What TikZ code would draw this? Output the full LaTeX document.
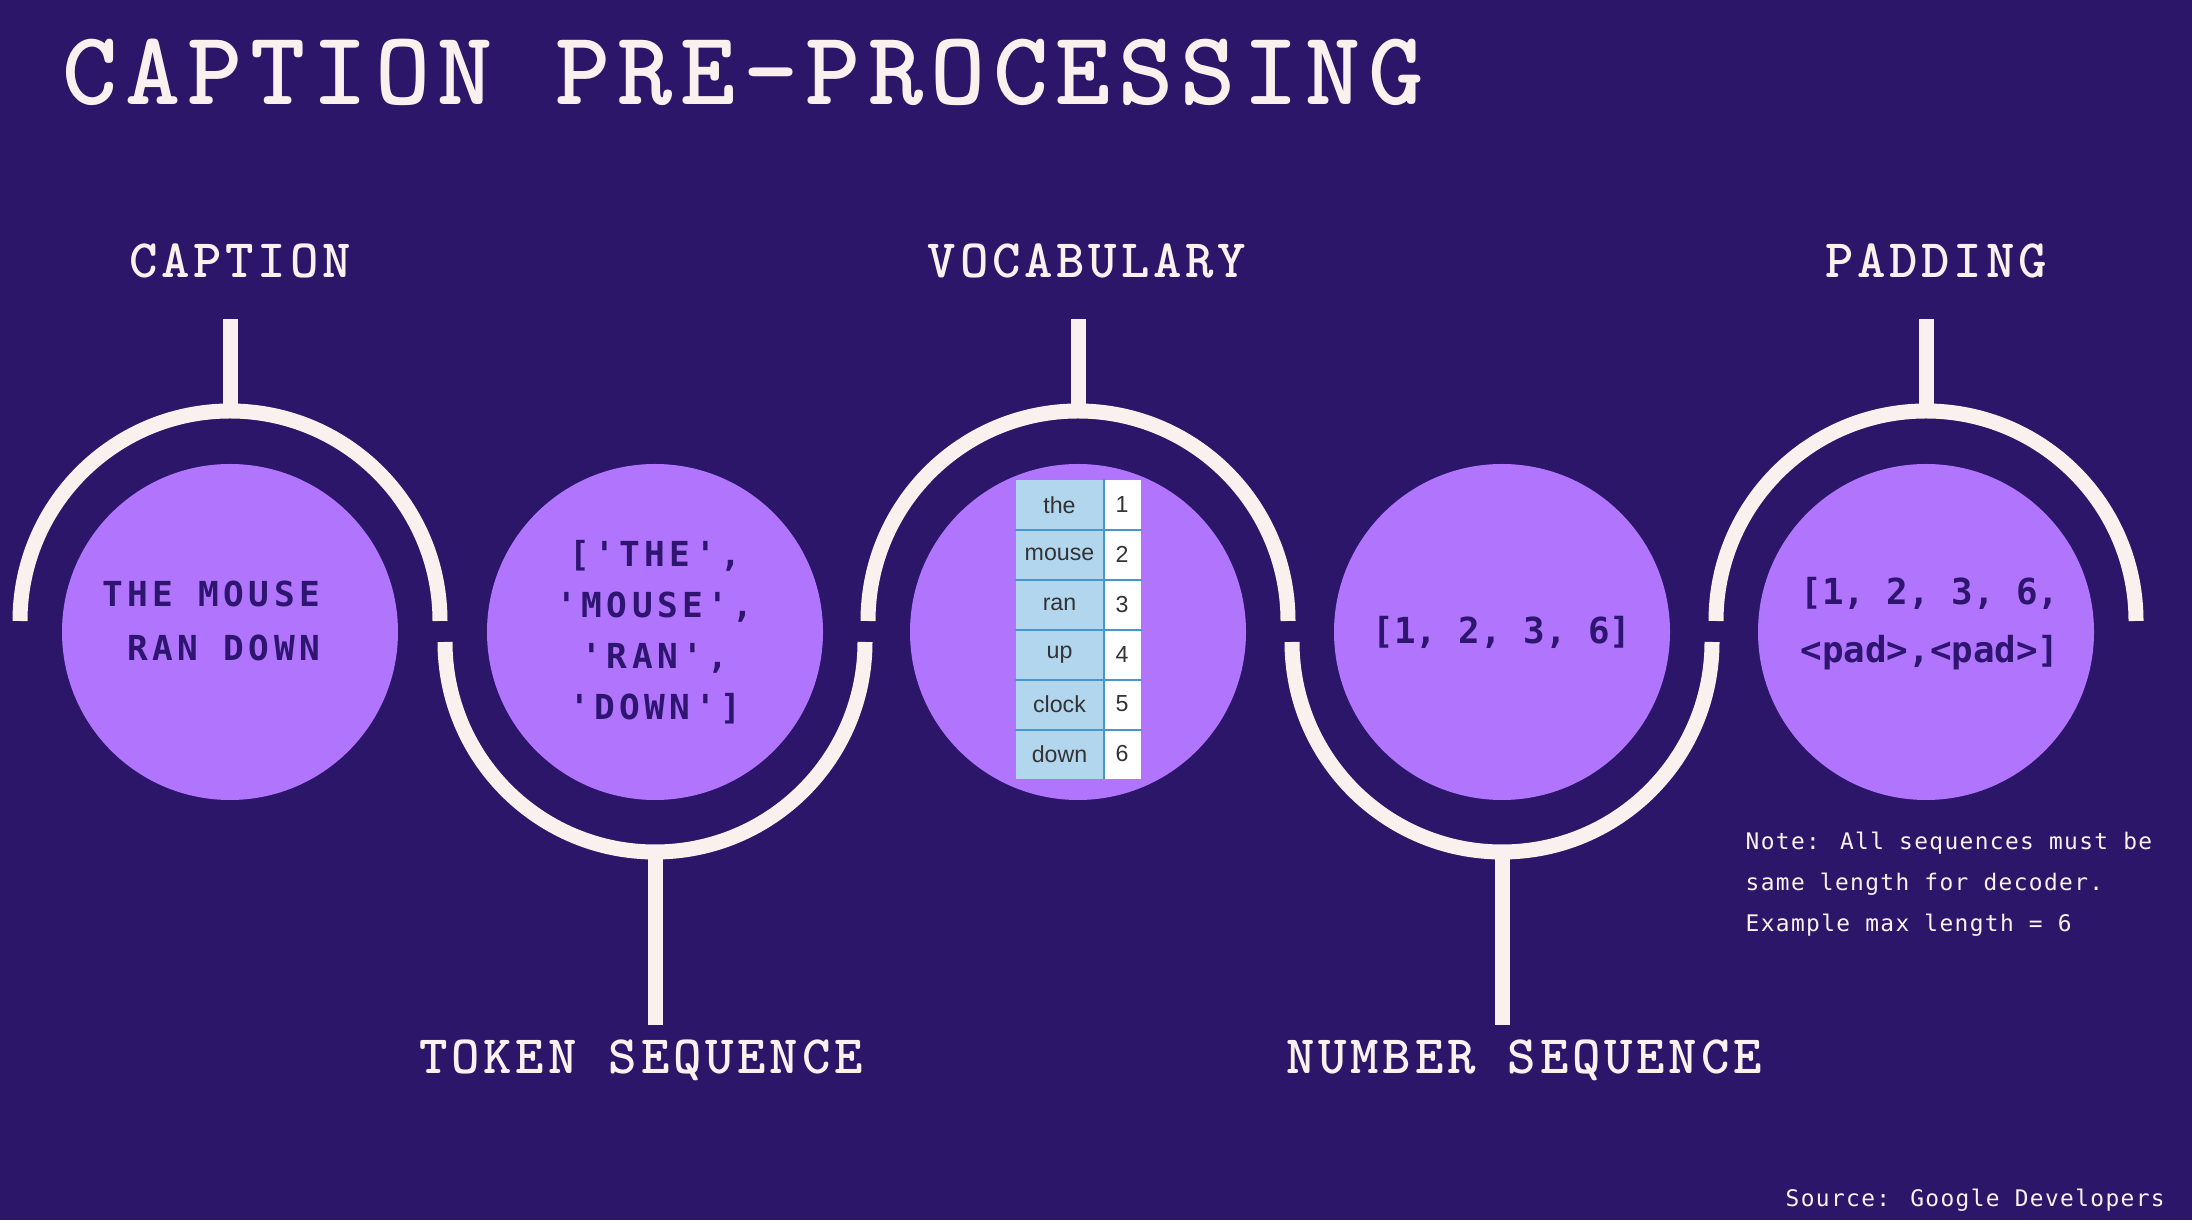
\documentclass[tikz,border=0pt]{standalone}
\usepackage{fontspec}
\usetikzlibrary{positioning,calc}

\definecolor{bgpurple}{RGB}{43,22,106}
\definecolor{discpurple}{RGB}{177,116,252}
\definecolor{ringwhite}{RGB}{250,241,239}
\definecolor{inktext}{RGB}{46,21,112}
\definecolor{cellblue}{RGB}{178,214,238}
\definecolor{lineblue}{RGB}{70,150,210}

\newfontfamily\headmono[LetterSpace=7]{lmmonolt10-bold.otf}
\newfontfamily\stagemono[LetterSpace=7]{lmmonolt10-bold.otf}
\newfontfamily\discmono[LetterSpace=13]{DejaVu Sans Mono}
\newfontfamily\listmono{DejaVu Sans Mono}
\newfontfamily\notemono[LetterSpace=6]{DejaVu Sans Mono}
\newfontfamily\cellsans{Liberation Sans}

\begin{document}
\begin{tikzpicture}[x=0.1mm, y=0.1mm,
  disc/.style={circle, fill=discpurple, minimum size=33.6mm, inner sep=0pt},
  ring/.style={draw=ringwhite, line width=1.5mm},
  lbl/.style={text=ringwhite, inner sep=0pt, text height=3.3mm, text depth=0pt, font=\stagemono\bfseries\fontsize{15.4}{16}\selectfont},
  intext/.style={text=inktext, inner sep=0pt, align=center},
  wcell/.style={fill=cellblue, minimum width=8.7mm, minimum height=4.98mm, inner sep=0pt, text=black!80, font=\cellsans\fontsize{6.6}{7}\selectfont},
  ncell/.style={wcell, fill=white, minimum width=3.8mm},
  grid/.style={draw=lineblue, line width=0.2mm},
  note/.style={text=ringwhite, inner sep=0pt, align=left, font=\notemono\fontsize{6.5}{11.7}\selectfont}
]
\fill[bgpurple] (0,0) rectangle (2192,1220);
\useasboundingbox (0,0) rectangle (2192,1220);
% title
\node[anchor=base west, inner sep=0pt, text=ringwhite, font=\headmono\fontsize{29.9}{30}\selectfont] (title) at (62,1115) {CAPTION PRE-PROCESSING};
% stages
\foreach \nm/\x in {cap/230,tok/655,voc/1078,num/1502,pad/1926} \node[disc] (\nm) at (\x,588) {};
\foreach \nm in {cap,voc,pad} \draw[ring] ([shift={(-210,11)}]\nm.center) arc[start angle=180, end angle=0, radius=210];
\foreach \nm in {tok,num} \draw[ring] ([shift={(-210,-10)}]\nm.center) arc[start angle=180, end angle=360, radius=210];
% labels and stems
\node[lbl, anchor=base] (capl) at (240,942) {CAPTION};
\node[lbl, anchor=base] (vocl) at (1087,942) {VOCABULARY};
\node[lbl, anchor=base] (padl) at (1936,942) {PADDING};
\node[lbl, anchor=base] (tokl) at (641,146) {TOKEN SEQUENCE};
\node[lbl, anchor=base] (numl) at (1524,146) {NUMBER SEQUENCE};
\coordinate (capTop) at (230,809);
\coordinate (vocTop) at (1078,809);
\coordinate (padTop) at (1926,809);
\coordinate (tokBot) at (655,368);
\coordinate (numBot) at (1502,368);
\foreach \c/\l in {capTop/capl,vocTop/vocl,padTop/padl} \draw[ring, shorten >=4mm] (\c) -- (\c |- \l.south);
\foreach \c/\l in {tokBot/tokl,numBot/numl} \draw[ring, shorten >=1.5mm] (\c) -- (\c |- \l.north);
% text in the discs
\node[intext, align=right, font=\discmono\bfseries\fontsize{9.8}{15.1}\selectfont] (captxt) at ([shift={(-19,11)}]cap.center) {THE MOUSE\\RAN DOWN};
\node[intext, font=\discmono\bfseries\fontsize{9.8}{14.5}\selectfont] (toktxt) at (tok.center) {['THE',\\'MOUSE',\\'RAN',\\'DOWN']};
\node[intext, font=\listmono\bfseries\fontsize{10.2}{11}\selectfont] (numtxt) at (num.center) {[1, 2, 3, 6]};
\node[intext, font=\listmono\bfseries\fontsize{10.2}{16.5}\selectfont] (padtxt) at ([shift={(4,8)}]pad.center) {[1, 2, 3, 6,\\ <pad>,<pad>]};
% vocabulary table
\foreach \w/\n [count=\i] in {the/1,mouse/2,ran/3,up/4,clock/5,down/6} {
  \node[wcell] (w\i) at (1059.5,{715.1-49.8*(\i-1)}) {\w};
  \node[ncell] (n\i) at (1122,{715.1-49.8*(\i-1)}) {\n};
}
\foreach \i in {1,...,5} \draw[grid] (w\i.south west) -- (n\i.south east);
\draw[grid] (w1.north east) -- (w6.south east);
% notes
\node[note, anchor=north west] (padnote) at (1745,389) {Note: All sequences must be\\same length for decoder.\\Example max length = 6};
\node[note, anchor=base west] (source) at (1785,13.5) {Source: Google Developers};
\end{tikzpicture}
\end{document}
